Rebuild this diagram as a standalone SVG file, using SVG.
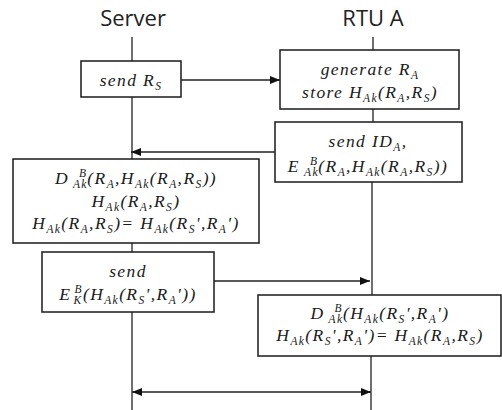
<svg xmlns="http://www.w3.org/2000/svg" width="502" height="410" viewBox="0 0 502 410">
<style>
.title{font-family:"Open Sans","Noto Sans",sans-serif;font-size:22px;fill:#222;text-anchor:middle}
.m{font-family:"Liberation Serif","Times New Roman",serif;font-style:italic;font-size:17.5px;letter-spacing:1.4px;fill:#1a1a1a;text-anchor:middle}
.sb{font-size:11.5px}
.box{fill:#fff;stroke:#1a1a1a;stroke-width:1.5}
.life{fill:none;stroke:#222;stroke-width:1.3}
.msg{fill:none;stroke:#222;stroke-width:1.4}
</style>
<defs>
<marker id="ah" viewBox="0 0 10 8" refX="10" refY="4" markerWidth="10" markerHeight="8" markerUnits="userSpaceOnUse" orient="auto-start-reverse">
<path d="M0,0 L10,4 L0,8 z" fill="#111"/>
</marker>
</defs>
<g id="titles">
<text class="title" x="133" y="26">Server</text>
<text class="title" x="373" y="26">RTU A</text>
</g>
<g id="lifelines">
<path class="life" d="M132,37 V410"/>
<path class="life" d="M373,37 V182 M372,182 V295 M371,356 V410"/>
</g>
<g id="connectors">
<line class="msg" x1="181" y1="80" x2="280" y2="80" marker-end="url(#ah)"/>
<line class="msg" x1="275" y1="152" x2="131" y2="152" marker-end="url(#ah)"/>
<line class="msg" x1="214" y1="281" x2="370" y2="281" marker-end="url(#ah)"/>
<line class="msg" x1="132" y1="392" x2="371" y2="392" marker-start="url(#ah)" marker-end="url(#ah)"/>
</g>
<g id="n1">
<rect class="box" x="81" y="61" width="100" height="36"/>
<text class="m" x="131" y="86">send R<tspan class="sb" dy="4">S</tspan></text>
</g>
<g id="n2">
<rect class="box" x="280" y="50" width="179" height="59"/>
<text class="m" x="370" y="75">generate R<tspan class="sb" dy="4">A</tspan></text>
<text class="m" x="370" y="98">store H<tspan class="sb" dy="4">Ak</tspan><tspan dy="-4">(R</tspan><tspan class="sb" dy="4">A</tspan><tspan dy="-4">,R</tspan><tspan class="sb" dy="4">S</tspan><tspan dy="-4">)</tspan></text>
</g>
<g id="n3">
<rect class="box" x="275" y="122" width="187" height="60"/>
<text class="m" x="368" y="147">send ID<tspan class="sb" dy="4">A</tspan><tspan dy="-4">,</tspan></text>
<text class="m" x="368" y="172">E<tspan class="sb" dx="4" dy="4">Ak</tspan><tspan class="sb" dx="-9" dy="-11">B</tspan><tspan dy="7">(R</tspan><tspan class="sb" dy="4">A</tspan><tspan dy="-4">,H</tspan><tspan class="sb" dy="4">Ak</tspan><tspan dy="-4">(R</tspan><tspan class="sb" dy="4">A</tspan><tspan dy="-4">,R</tspan><tspan class="sb" dy="4">S</tspan><tspan dy="-4">))</tspan></text>
</g>
<g id="n4">
<rect class="box" x="13" y="159" width="246" height="84"/>
<text class="m" x="136" y="184">D<tspan class="sb" dx="4" dy="4">Ak</tspan><tspan class="sb" dx="-9" dy="-11">B</tspan><tspan dy="7">(R</tspan><tspan class="sb" dy="4">A</tspan><tspan dy="-4">,H</tspan><tspan class="sb" dy="4">Ak</tspan><tspan dy="-4">(R</tspan><tspan class="sb" dy="4">A</tspan><tspan dy="-4">,R</tspan><tspan class="sb" dy="4">S</tspan><tspan dy="-4">))</tspan></text>
<text class="m" x="136" y="207">H<tspan class="sb" dy="4">Ak</tspan><tspan dy="-4">(R</tspan><tspan class="sb" dy="4">A</tspan><tspan dy="-4">,R</tspan><tspan class="sb" dy="4">S</tspan><tspan dy="-4">)</tspan></text>
<text class="m" x="136" y="229">H<tspan class="sb" dy="4">Ak</tspan><tspan dy="-4">(R</tspan><tspan class="sb" dy="4">A</tspan><tspan dy="-4">,R</tspan><tspan class="sb" dy="4">S</tspan><tspan dy="-4">)= H</tspan><tspan class="sb" dy="4">Ak</tspan><tspan dy="-4">(R</tspan><tspan class="sb" dy="4">S</tspan><tspan dy="-4">',R</tspan><tspan class="sb" dy="4">A</tspan><tspan dy="-4">')</tspan></text>
</g>
<g id="n5">
<rect class="box" x="42" y="252" width="172" height="60"/>
<text class="m" x="128" y="277">send</text>
<text class="m" x="128" y="300">E<tspan class="sb" dx="2" dy="4">K</tspan><tspan class="sb" dx="-8" dy="-11">B</tspan><tspan dy="7">(H</tspan><tspan class="sb" dy="4">Ak</tspan><tspan dy="-4">(R</tspan><tspan class="sb" dy="4">S</tspan><tspan dy="-4">',R</tspan><tspan class="sb" dy="4">A</tspan><tspan dy="-4">'))</tspan></text>
</g>
<g id="n6">
<rect class="box" x="258" y="295" width="243" height="61"/>
<text class="m" x="380" y="319">D<tspan class="sb" dx="4" dy="4">Ak</tspan><tspan class="sb" dx="-9" dy="-11">B</tspan><tspan dy="7">(H</tspan><tspan class="sb" dy="4">Ak</tspan><tspan dy="-4">(R</tspan><tspan class="sb" dy="4">S</tspan><tspan dy="-4">',R</tspan><tspan class="sb" dy="4">A</tspan><tspan dy="-4">')</tspan></text>
<text class="m" x="380" y="341">H<tspan class="sb" dy="4">Ak</tspan><tspan dy="-4">(R</tspan><tspan class="sb" dy="4">S</tspan><tspan dy="-4">',R</tspan><tspan class="sb" dy="4">A</tspan><tspan dy="-4">')= H</tspan><tspan class="sb" dy="4">Ak</tspan><tspan dy="-4">(R</tspan><tspan class="sb" dy="4">A</tspan><tspan dy="-4">,R</tspan><tspan class="sb" dy="4">S</tspan><tspan dy="-4">)</tspan></text>
</g>
</svg>
